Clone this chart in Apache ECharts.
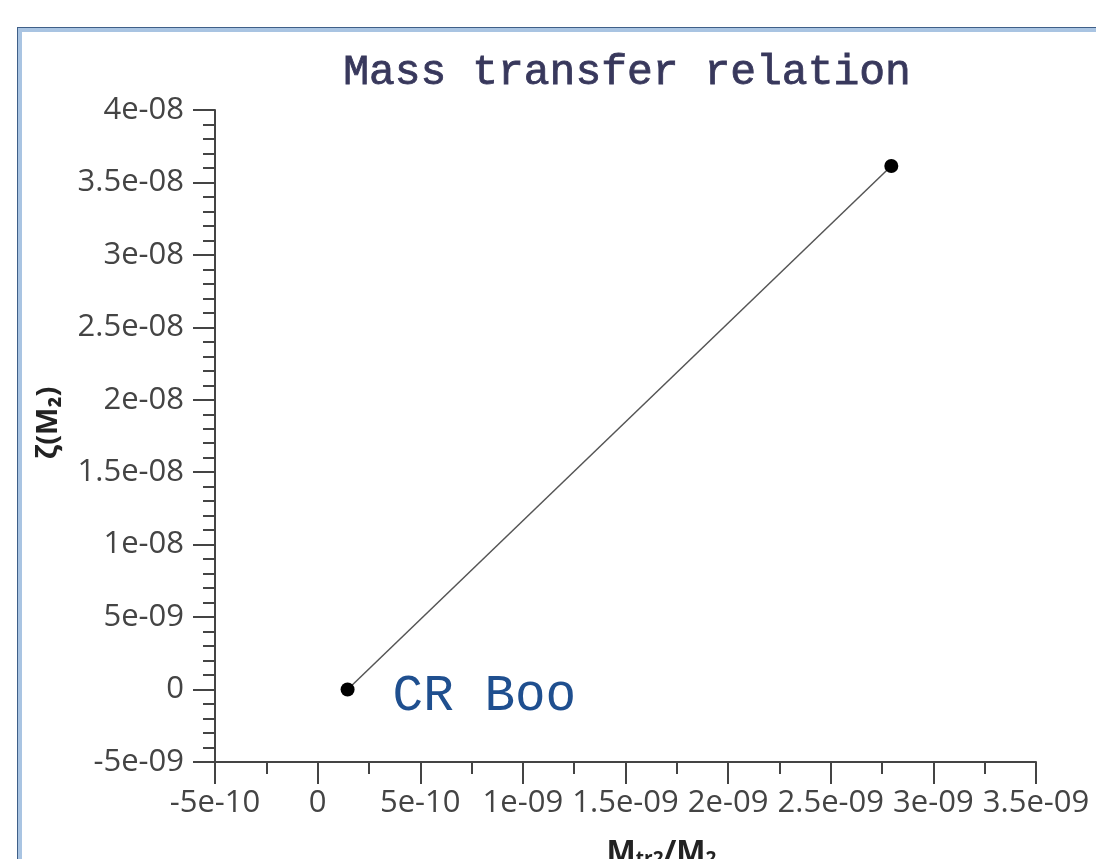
<!DOCTYPE html>
<html>
<head>
<meta charset="utf-8">
<script src="https://cdn.jsdelivr.net/npm/echarts@6/dist/echarts.min.js"></script>
<style>
  html, body { margin: 0; padding: 0; background: #ffffff; width: 1096px; height: 859px; overflow: hidden; }
  #frame { position: absolute; left: 17px; top: 27px; width: 1079px; height: 832px;
           border-top: 1px solid #3f5f88; border-left: 1px solid #3f5f88;
           box-shadow: inset 4px 4px 0 #a9c4e2; box-sizing: border-box; }
  #chart { position: absolute; left: 0; top: 0; width: 1096px; height: 859px; }
</style>
</head>
<body>
<div id="frame"></div>
<div id="chart"></div>
<script>
const titleText = 'Mass transfer relation';
const starName = 'CR Boo';
const xValues = [1.46e-10, 2.795e-9];
const yValues = [0, 3.613e-8];
const xAxisRange = { min: -5e-10, max: 3.5e-9, interval: 5e-10 };
const yAxisRange = { min: -5e-9, max: 4e-8, interval: 5e-9 };

function fmt(v) {
  if (Math.abs(v) < 1e-20) return '0';
  const s = v.toExponential(3);
  let [m, e] = s.split('e');
  m = parseFloat(m).toString();
  const sign = e[0];
  let d = e.slice(1);
  if (d.length < 2) d = '0' + d;
  return m + 'e' + sign + d;
}

const points = xValues.map((x, i) => [x, yValues[i]]);
const chart = echarts.init(document.getElementById('chart'), null, { renderer: 'canvas', width: 1096, height: 859 });
const axisColor = '#444444';
const labelStyle = { fontFamily: 'Open Sans', fontSize: 31, color: '#444444' };

chart.setOption({
  backgroundColor: 'transparent',
  animation: false,
  title: {
    text: titleText, left: 622, top: 46, textAlign: 'center',
    textStyle: { fontFamily: 'Liberation Mono', fontSize: 43, fontWeight: 'normal', color: '#38385c',
                 textBorderColor: '#38385c', textBorderWidth: 0.8 }
  },
  grid: { left: 215, right: 60, top: 110, bottom: 97, containLabel: false, outerBoundsMode: 'none' },
  xAxis: {
    type: 'value', min: xAxisRange.min, max: xAxisRange.max, interval: xAxisRange.interval,
    splitLine: { show: false },
    axisLine: { show: true, onZero: false, lineStyle: { color: axisColor, width: 2 } },
    axisTick: { show: true, length: 22, lineStyle: { color: axisColor, width: 2 } },
    minorTick: { show: true, splitNumber: 2, length: 12, lineStyle: { color: axisColor, width: 2 } },
    axisLabel: Object.assign({ margin: 26, formatter: fmt }, labelStyle),
    name: '{b|M}{s|tr2}{b|/M}{s|2}', nameLocation: 'middle', nameGap: 75,
    nameTextStyle: {
      padding: [0, 0, 0, 72],
      rich: {
        b: { fontFamily: 'Open Sans', fontWeight: 'bold', fontSize: 31, color: '#222' },
        s: { fontFamily: 'Open Sans', fontWeight: 'bold', fontSize: 19, color: '#222', padding: [13, 0, 0, 0] }
      }
    }
  },
  yAxis: {
    type: 'value', min: yAxisRange.min, max: yAxisRange.max, interval: yAxisRange.interval,
    splitLine: { show: false },
    axisLine: { show: true, onZero: false, lineStyle: { color: axisColor, width: 2 } },
    axisTick: { show: true, length: 22, lineStyle: { color: axisColor, width: 2 } },
    minorTick: { show: true, splitNumber: 5, length: 12, lineStyle: { color: axisColor, width: 2 } },
    axisLabel: Object.assign({ margin: 31, formatter: fmt }, labelStyle),
    name: 'ζ(M₂)', nameLocation: 'middle', nameGap: 152, nameRotate: 90,
    nameTextStyle: { fontFamily: 'Open Sans', fontWeight: 'bold', fontSize: 29, color: '#222', padding: [0, 0, 0, 26] }
  },
  series: [{
    type: 'line',
    data: points,
    symbol: 'circle', symbolSize: 14,
    itemStyle: { color: '#000000' },
    lineStyle: { color: '#555555', width: 1.5 },
    label: {
      show: true,
      formatter: (p) => p.dataIndex === 0 ? starName : '',
      position: 'right', distance: 38, offset: [0, 7],
      fontFamily: 'Liberation Mono', fontSize: 51, color: '#1f4f8f'
    }
  }]
});
</script>
</body>
</html>
